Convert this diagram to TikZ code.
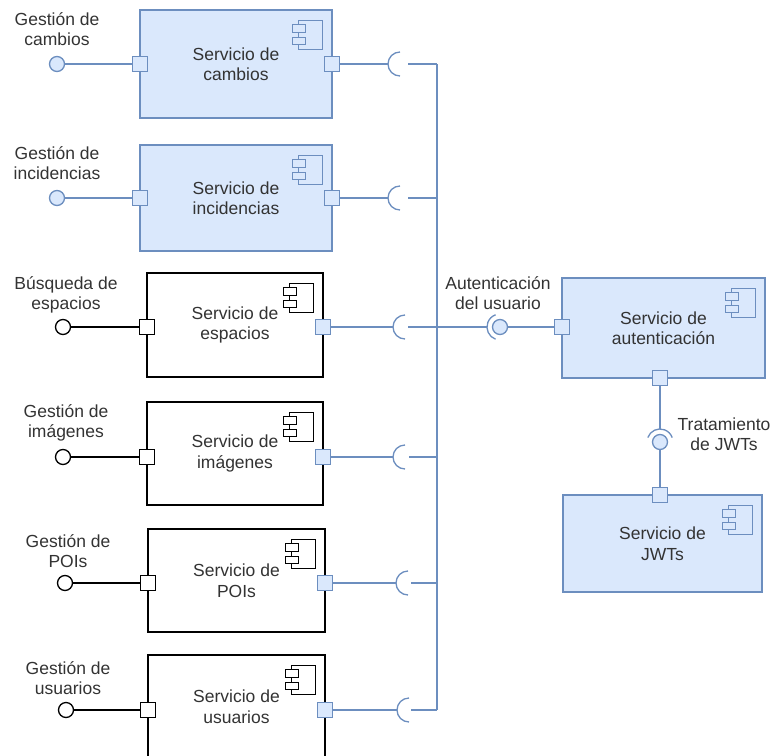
\documentclass[tikz,border=0pt]{standalone}
\usepackage{fontspec}
\setmainfont{Liberation Sans}
\newcommand\diagfont{\fontsize{17.5}{20.5}\selectfont}
\definecolor{compfill}{HTML}{DAE8FC}
\definecolor{compline}{HTML}{6C8EBF}
\definecolor{txtgray}{HTML}{333333}

% component glyph in the top right corner of a box: #1 box name, #2 stroke, #3 fill
\newcommand\compglyph[3]{%
  \begin{scope}[shift={(#1.north east)}, draw=#2, fill=#3, line width=1.2pt]
    \filldraw (-34,11) rectangle (-10,40);
    \filldraw (-40,15) rectangle (-27,23);
    \filldraw (-40,28) rectangle (-27,35);
  \end{scope}}

% required-interface socket opening to the right, centred at (#1,#2)
\newcommand\socket[2]{%
  \draw[blueline] (#1,#2) ++(90:12) arc[start angle=90, end angle=270, radius=12];}

\begin{document}
\begin{tikzpicture}[x=1pt, y=-1pt,
  every node/.style={font=\diagfont, text=txtgray, align=center, inner sep=0pt},
  bluecomp/.style={draw=compline, fill=compfill, line width=1.3pt},
  plaincomp/.style={draw=black, fill=white, line width=1.3pt},
  blueport/.style={draw=compline, fill=compfill, line width=1.3pt, minimum size=15pt},
  plainport/.style={draw=black, fill=white, line width=1.3pt, minimum size=15pt},
  bluelolli/.style={circle, draw=compline, fill=compfill, line width=1.3pt, minimum size=15pt},
  plainlolli/.style={circle, draw=black, fill=white, line width=1.3pt, minimum size=15pt},
  blueline/.style={draw=compline, line width=1.3pt},
  plainline/.style={draw=black, line width=1.3pt},
  iflabel/.style={}
]
\useasboundingbox (0,0) rectangle (771,755);

% ---------- client components ----------
\node[bluecomp, minimum width=192pt, minimum height=108pt] (svc1) at (236,64) {Servicio de\\cambios};
\node[bluecomp, minimum width=192pt, minimum height=106pt] (svc2) at (236,198) {Servicio de\\incidencias};
\node[plaincomp, minimum width=176pt, minimum height=104pt] (svc3) at (235,325) {Servicio de\\espacios};
\node[plaincomp, minimum width=176pt, minimum height=103pt] (svc4) at (235,453.5) {Servicio de\\imágenes};
\node[plaincomp, minimum width=177pt, minimum height=103pt] (svc5) at (236.5,580.5) {Servicio de\\POIs};
\node[plaincomp, minimum width=177pt, minimum height=103pt] (svc6) at (236.5,706.5) {Servicio de\\usuarios};

\compglyph{svc1}{compline}{compfill}
\compglyph{svc2}{compline}{compfill}
\compglyph{svc3}{black}{white}
\compglyph{svc4}{black}{white}
\compglyph{svc5}{black}{white}
\compglyph{svc6}{black}{white}

% ---------- authentication and JWT components ----------
\node[bluecomp, minimum width=203pt, minimum height=100pt] (auth) at (663.5,328) {Servicio de\\autenticación};
\node[bluecomp, minimum width=199pt, minimum height=97pt] (jwt) at (662.5,543.5) {Servicio de\\JWTs};
\compglyph{auth}{compline}{compfill}
\compglyph{jwt}{compline}{compfill}

% ---------- ports ----------
\node[blueport] (p1l) at (140,64) {};
\node[blueport] (p1r) at (332,64) {};
\node[blueport] (p2l) at (140,198) {};
\node[blueport] (p2r) at (332,198) {};
\node[plainport] (p3l) at (147,327) {};
\node[blueport] (p3r) at (323,327) {};
\node[plainport] (p4l) at (147,457) {};
\node[blueport] (p4r) at (323,457) {};
\node[plainport] (p5l) at (148,583) {};
\node[blueport] (p5r) at (325,583) {};
\node[plainport] (p6l) at (148,710) {};
\node[blueport] (p6r) at (325,710) {};
\node[blueport] (pal) at (562,327) {};
\node[blueport] (pab) at (660,378) {};
\node[blueport] (pjt) at (660,495) {};

% ---------- provided interfaces ----------
\node[bluelolli] (i1) at (57,64) {};
\node[bluelolli] (i2) at (57,198) {};
\node[plainlolli] (i3) at (63,327) {};
\node[plainlolli] (i4) at (63,457) {};
\node[plainlolli] (i5) at (65,583) {};
\node[plainlolli] (i6) at (66,710) {};
\node[bluelolli] (ia) at (500,327) {};
\node[bluelolli] (ij) at (660,442) {};

\node[iflabel] (t1) at (57,29) {Gestión de\\cambios};
\node[iflabel] (t2) at (57,163) {Gestión de\\incidencias};
\node[iflabel] (t3) at (66,295) {Búsqueda de\\espacios};
\node[iflabel] (t4) at (66,423) {Gestión de\\imágenes};
\node[iflabel] (t5) at (68,551) {Gestión de\\POIs};
\node[iflabel] (t6) at (68,678) {Gestión de\\usuarios};
\node[iflabel] (ta) at (498,293) {Autenticación\\del usuario};
\node[iflabel] (tj) at (724,434) {Tratamiento\\de JWTs};

\draw[blueline] (i1) -- (p1l);
\draw[blueline] (i2) -- (p2l);
\draw[plainline] (i3) -- (p3l);
\draw[plainline] (i4) -- (p4l);
\draw[plainline] (i5) -- (p5l);
\draw[plainline] (i6) -- (p6l);

% ---------- required interfaces and the shared bus ----------
\coordinate (s1) at (388,64);  \coordinate (r1) at (408,64);  \coordinate (b1) at (437,64);
\coordinate (s2) at (388,198); \coordinate (r2) at (408,198); \coordinate (b2) at (437,198);
\coordinate (s3) at (393,327); \coordinate (r3) at (408,327); \coordinate (b3) at (437,327);
\coordinate (s4) at (393,457); \coordinate (r4) at (409,457); \coordinate (b4) at (437,457);
\coordinate (s5) at (396,583); \coordinate (r5) at (411,583); \coordinate (b5) at (437,583);
\coordinate (s6) at (397,710); \coordinate (r6) at (411,710); \coordinate (b6) at (437,710);

\socket{400}{64}
\socket{400}{198}
\socket{405}{327}
\socket{405}{457}
\socket{408}{583}
\socket{409}{710}

\draw[blueline] (p1r) -- (s1);  \draw[blueline] (r1) -- (b1);
\draw[blueline] (p2r) -- (s2);  \draw[blueline] (r2) -- (b2);
\draw[blueline] (p3r) -- (s3);  \draw[blueline] (r3) -- (b3);
\draw[blueline] (p4r) -- (s4);  \draw[blueline] (r4) -- (b4);
\draw[blueline] (p5r) -- (s5);  \draw[blueline] (r5) -- (b5);
\draw[blueline] (p6r) -- (s6);  \draw[blueline] (r6) -- (b6);
\draw[blueline] (b1) -- (b6);

% bus to the authentication socket
\coordinate (sa) at (487,327);
\draw[blueline] (b3) -- (sa);
\draw[blueline] (ia) ++(110:13) arc[start angle=110, end angle=250, radius=13];
\draw[blueline] (ia) -- (pal);

% authentication to JWT treatment
\coordinate (sj) at (660,429);
\draw[blueline] (pab) -- (sj);
\draw[blueline] (ij) ++(200:13) arc[start angle=200, end angle=340, radius=13];
\draw[blueline] (ij) -- (pjt);
\end{tikzpicture}
\end{document}
